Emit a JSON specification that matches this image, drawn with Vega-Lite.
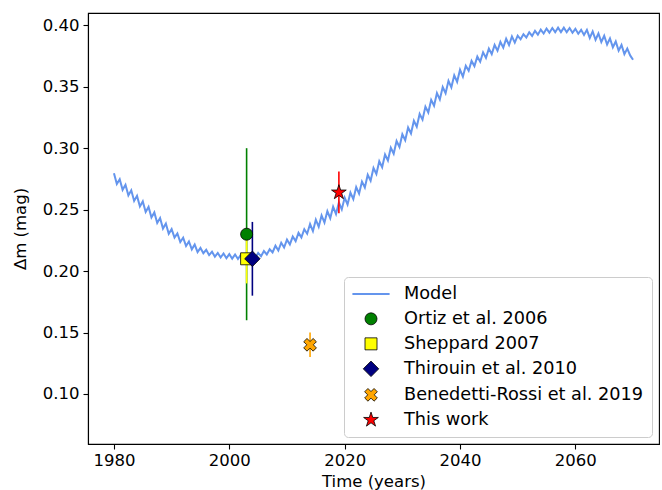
{
  "$schema": "https://vega.github.io/schema/vega-lite/v6.json",
  "width": 571,
  "height": 431,
  "autosize": {"type": "none"},
  "padding": {"left": 88, "top": 13, "right": 3, "bottom": 46},
  "background": "white",
  "config": {
    "font": "DejaVu Sans",
    "view": {"stroke": "black", "strokeWidth": 1.1},
    "axis": {
      "grid": false,
      "domainColor": "black",
      "domainWidth": 1.1,
      "tickColor": "black",
      "tickWidth": 1.1,
      "tickSize": 5,
      "labelColor": "black",
      "labelFont": "DejaVu Sans",
      "labelFontSize": 16.5,
      "titleColor": "black",
      "titleFont": "DejaVu Sans",
      "titleFontSize": 16.5,
      "titleFontWeight": "normal"
    },
    "legend": {
      "labelFont": "DejaVu Sans",
      "labelFontSize": 17.7,
      "labelColor": "black",
      "labelLimit": 0
    }
  },
  "datasets": {
    "model": [
      {"t":1980,"m":0.2797},{"t":1980.5,"m":0.2708},{"t":1981,"m":0.2747},{"t":1981.5,"m":0.2661},
      {"t":1982,"m":0.2702},{"t":1982.5,"m":0.2616},{"t":1983,"m":0.2657},{"t":1983.5,"m":0.2571},
      {"t":1984,"m":0.2612},{"t":1984.5,"m":0.2526},{"t":1985,"m":0.2567},{"t":1985.5,"m":0.2481},
      {"t":1986,"m":0.2522},{"t":1986.5,"m":0.2436},{"t":1987,"m":0.2477},{"t":1987.5,"m":0.2391},
      {"t":1988,"m":0.2432},{"t":1988.5,"m":0.2346},{"t":1989,"m":0.2387},{"t":1989.5,"m":0.2303},
      {"t":1990,"m":0.2341},{"t":1990.5,"m":0.2272},{"t":1991,"m":0.2306},{"t":1991.5,"m":0.2237},
      {"t":1992,"m":0.2271},{"t":1992.5,"m":0.2204},{"t":1993,"m":0.2241},{"t":1993.5,"m":0.2177},
      {"t":1994,"m":0.2216},{"t":1994.5,"m":0.2154},{"t":1995,"m":0.2188},{"t":1995.5,"m":0.2145},
      {"t":1996,"m":0.2173},{"t":1996.5,"m":0.2130},{"t":1997,"m":0.2158},{"t":1997.5,"m":0.2117},
      {"t":1998,"m":0.2148},{"t":1998.5,"m":0.2110},{"t":1999,"m":0.2143},{"t":1999.5,"m":0.2105},
      {"t":2000,"m":0.2138},{"t":2000.5,"m":0.2101},{"t":2001,"m":0.2135},{"t":2001.5,"m":0.2098},
      {"t":2002,"m":0.2133},{"t":2002.5,"m":0.2098},{"t":2003,"m":0.2135},{"t":2003.5,"m":0.2101},
      {"t":2004,"m":0.2138},{"t":2004.5,"m":0.2107},{"t":2005,"m":0.2148},{"t":2005.5,"m":0.2120},
      {"t":2006,"m":0.2163},{"t":2006.5,"m":0.2135},{"t":2007,"m":0.2178},{"t":2007.5,"m":0.2152},
      {"t":2008,"m":0.2206},{"t":2008.5,"m":0.2167},{"t":2009,"m":0.2231},{"t":2009.5,"m":0.2192},
      {"t":2010,"m":0.2256},{"t":2010.5,"m":0.2217},{"t":2011,"m":0.2281},{"t":2011.5,"m":0.2244},
      {"t":2012,"m":0.2311},{"t":2012.5,"m":0.2274},{"t":2013,"m":0.2341},{"t":2013.5,"m":0.2304},
      {"t":2014,"m":0.2383},{"t":2014.5,"m":0.2325},{"t":2015,"m":0.2418},{"t":2015.5,"m":0.2360},
      {"t":2016,"m":0.2453},{"t":2016.5,"m":0.2395},{"t":2017,"m":0.2488},{"t":2017.5,"m":0.2430},
      {"t":2018,"m":0.2523},{"t":2018.5,"m":0.2465},{"t":2019,"m":0.2558},{"t":2019.5,"m":0.2502},
      {"t":2020,"m":0.2598},{"t":2020.5,"m":0.2542},{"t":2021,"m":0.2638},{"t":2021.5,"m":0.2585},
      {"t":2022,"m":0.2683},{"t":2022.5,"m":0.2630},{"t":2023,"m":0.2728},{"t":2023.5,"m":0.2680},
      {"t":2024,"m":0.2783},{"t":2024.5,"m":0.2735},{"t":2025,"m":0.2838},{"t":2025.5,"m":0.2790},
      {"t":2026,"m":0.2893},{"t":2026.5,"m":0.2845},{"t":2027,"m":0.2948},{"t":2027.5,"m":0.2900},
      {"t":2028,"m":0.3003},{"t":2028.5,"m":0.2955},{"t":2029,"m":0.3058},{"t":2029.5,"m":0.3010},
      {"t":2030,"m":0.3113},{"t":2030.5,"m":0.3065},{"t":2031,"m":0.3168},{"t":2031.5,"m":0.3120},
      {"t":2032,"m":0.3223},{"t":2032.5,"m":0.3175},{"t":2033,"m":0.3278},{"t":2033.5,"m":0.3232},
      {"t":2034,"m":0.3338},{"t":2034.5,"m":0.3290},{"t":2035,"m":0.3393},{"t":2035.5,"m":0.3345},
      {"t":2036,"m":0.3448},{"t":2036.5,"m":0.3397},{"t":2037,"m":0.3498},{"t":2037.5,"m":0.3447},
      {"t":2038,"m":0.3548},{"t":2038.5,"m":0.3495},{"t":2039,"m":0.3593},{"t":2039.5,"m":0.3540},
      {"t":2040,"m":0.3638},{"t":2040.5,"m":0.3582},{"t":2041,"m":0.3670},{"t":2041.5,"m":0.3630},
      {"t":2042,"m":0.3710},{"t":2042.5,"m":0.3668},{"t":2043,"m":0.3745},{"t":2043.5,"m":0.3703},
      {"t":2044,"m":0.3780},{"t":2044.5,"m":0.3735},{"t":2045,"m":0.3810},{"t":2045.5,"m":0.3765},
      {"t":2046,"m":0.3840},{"t":2046.5,"m":0.3793},{"t":2047,"m":0.3865},{"t":2047.5,"m":0.3818},
      {"t":2048,"m":0.3890},{"t":2048.5,"m":0.3840},{"t":2049,"m":0.3910},{"t":2049.5,"m":0.3859},
      {"t":2050,"m":0.3915},{"t":2050.5,"m":0.3886},{"t":2051,"m":0.3928},{"t":2051.5,"m":0.3900},
      {"t":2052,"m":0.3943},{"t":2052.5,"m":0.3913},{"t":2053,"m":0.3955},{"t":2053.5,"m":0.3924},
      {"t":2054,"m":0.3965},{"t":2054.5,"m":0.3933},{"t":2055,"m":0.3973},{"t":2055.5,"m":0.3940},
      {"t":2056,"m":0.3978},{"t":2056.5,"m":0.3944},{"t":2057,"m":0.3981},{"t":2057.5,"m":0.3945},
      {"t":2058,"m":0.3981},{"t":2058.5,"m":0.3944},{"t":2059,"m":0.3978},{"t":2059.5,"m":0.3939},
      {"t":2060,"m":0.3971},{"t":2060.5,"m":0.3931},{"t":2061,"m":0.3963},{"t":2061.5,"m":0.3921},
      {"t":2062,"m":0.3963},{"t":2062.5,"m":0.3897},{"t":2063,"m":0.3950},{"t":2063.5,"m":0.3882},
      {"t":2064,"m":0.3933},{"t":2064.5,"m":0.3864},{"t":2065,"m":0.3915},{"t":2065.5,"m":0.3844},
      {"t":2066,"m":0.3893},{"t":2066.5,"m":0.3821},{"t":2067,"m":0.3868},{"t":2067.5,"m":0.3794},
      {"t":2068,"m":0.3840},{"t":2068.5,"m":0.3765},{"t":2069,"m":0.3810},{"t":2069.5,"m":0.3755},
      {"t":2070,"m":0.3720}
    ],
    "obs": [
      {"series":"Ortiz et al. 2006","t":2003,"m":0.23,"lo":0.16,"hi":0.30},
      {"series":"Sheppard 2007","t":2003,"m":0.21,"lo":0.19,"hi":0.23},
      {"series":"Thirouin et al. 2010","t":2004,"m":0.21,"lo":0.18,"hi":0.24},
      {"series":"Benedetti-Rossi et al. 2019","t":2014,"m":0.14,"lo":0.13,"hi":0.15},
      {"series":"This work","t":2019,"m":0.264,"lo":0.247,"hi":0.281}
    ]
  },
  "layer": [
    {
      "data": {"name": "model"},
      "mark": {"type": "line", "color": "#6495ED", "strokeWidth": 2, "clip": true},
      "encoding": {
        "x": {"field": "t", "type": "quantitative",
              "scale": {"domain": [1975.5, 2074.5], "nice": false, "zero": false},
              "axis": {"values": [1980, 2000, 2020, 2040, 2060], "format": "d", "title": "Time (years)", "labelPadding": 3, "titlePadding": 5}},
        "y": {"field": "m", "type": "quantitative",
              "scale": {"domain": [0.0593, 0.41], "nice": false, "zero": false},
              "axis": {"values": [0.10, 0.15, 0.20, 0.25, 0.30, 0.35, 0.40], "format": ".2f", "title": "Δm (mag)", "labelPadding": 4, "titlePadding": 14}}
      }
    },
    {
      "data": {"name": "obs"},
      "mark": {"type": "rule", "strokeWidth": 1.6},
      "encoding": {
        "x": {"field": "t", "type": "quantitative"},
        "y": {"field": "lo", "type": "quantitative"},
        "y2": {"field": "hi"},
        "color": {"field": "series", "type": "nominal", "legend": null,
                  "scale": {"domain": ["Ortiz et al. 2006","Sheppard 2007","Thirouin et al. 2010","Benedetti-Rossi et al. 2019","This work"],
                            "range": ["#008000","#FFFF00","#000080","#FFA500","#FF0000"]}}
      }
    },
    {
      "data": {"name": "obs"},
      "mark": {"type": "point", "opacity": 1, "fillOpacity": 1},
      "encoding": {
        "x": {"field": "t", "type": "quantitative"},
        "y": {"field": "m", "type": "quantitative"},
        "fill": {"field": "series", "type": "nominal",
                 "scale": {"domain": ["Model","Ortiz et al. 2006","Sheppard 2007","Thirouin et al. 2010","Benedetti-Rossi et al. 2019","This work"],
                           "range": ["#6495ED","#008000","#FFFF00","#000080","#FFA500","#FF0000"]},
                 "legend": {"title": null, "orient": "bottom-right", "offset": 7, "fillColor": "white", "strokeColor": "#cccccc", "cornerRadius": 4, "padding": 8, "labelOffset": 24, "symbolOffset": 10, "rowPadding": 6}},
        "stroke": {"field": "series", "type": "nominal",
                   "scale": {"domain": ["Model","Ortiz et al. 2006","Sheppard 2007","Thirouin et al. 2010","Benedetti-Rossi et al. 2019","This work"],
                             "range": ["#6495ED","#000000","#000000","#000000","#000000","#000000"]},
                   "legend": {"title": null, "orient": "bottom-right", "offset": 7, "fillColor": "white", "strokeColor": "#cccccc", "cornerRadius": 4, "padding": 8, "labelOffset": 24, "symbolOffset": 10, "rowPadding": 6}},
        "shape": {"field": "series", "type": "nominal",
                  "scale": {"domain": ["Model","Ortiz et al. 2006","Sheppard 2007","Thirouin et al. 2010","Benedetti-Rossi et al. 2019","This work"],
                            "range": ["M-2.4,0L2.4,0","circle","square","diamond",
                                      "M0.46,-0.955L0.955,-0.46L0.495,0L0.955,0.46L0.46,0.955L0,0.495L-0.46,0.955L-0.955,0.46L-0.495,0L-0.955,-0.46L-0.46,-0.955L0,-0.495Z",
                                      "M0,-1L0.2245,-0.309L0.951,-0.309L0.363,0.118L0.588,0.809L0,0.382L-0.588,0.809L-0.363,0.118L-0.951,-0.309L-0.2245,-0.309Z"]},
                  "legend": {"title": null, "orient": "bottom-right", "offset": 7, "fillColor": "white", "strokeColor": "#cccccc", "cornerRadius": 4, "padding": 8, "labelOffset": 24, "symbolOffset": 10, "rowPadding": 6}},
        "size": {"field": "series", "type": "nominal",
                 "scale": {"type": "ordinal", "domain": ["Model","Ortiz et al. 2006","Sheppard 2007","Thirouin et al. 2010","Benedetti-Rossi et al. 2019","This work"],
                           "range": [240, 144, 144, 240, 177, 240]},
                 "legend": {"title": null, "orient": "bottom-right", "offset": 7, "fillColor": "white", "strokeColor": "#cccccc", "cornerRadius": 4, "padding": 8, "labelOffset": 24, "symbolOffset": 10, "rowPadding": 6}},
        "strokeWidth": {"field": "series", "type": "nominal",
                        "scale": {"type": "ordinal", "domain": ["Model","Ortiz et al. 2006","Sheppard 2007","Thirouin et al. 2010","Benedetti-Rossi et al. 2019","This work"],
                                  "range": [2, 0.8, 0.8, 0.8, 0.8, 0.8]},
                        "legend": {"title": null, "orient": "bottom-right", "offset": 7, "fillColor": "white", "strokeColor": "#cccccc", "cornerRadius": 4, "padding": 8, "labelOffset": 24, "symbolOffset": 10, "rowPadding": 6}}
      }
    },
    {
      "mark": {"type": "text", "align": "left", "baseline": "middle", "fontSize": 17, "font": "DejaVu Sans", "color": "black"},
      "encoding": {
        "x": {"datum": 1979.8, "type": "quantitative"},
        "y": {"datum": 0.3855, "type": "quantitative"},
        "text": {"value": "λₚ = 228°, βₚ = 39°"}
      }
    },
    {
      "mark": {"type": "text", "align": "left", "baseline": "middle", "fontSize": 17, "font": "DejaVu Sans", "color": "black"},
      "encoding": {
        "x": {"datum": 1979.8, "type": "quantitative"},
        "y": {"datum": 0.3657, "type": "quantitative"},
        "text": {"value": "a/b = 1.44, b/c = 1.04"}
      }
    }
  ]
}
